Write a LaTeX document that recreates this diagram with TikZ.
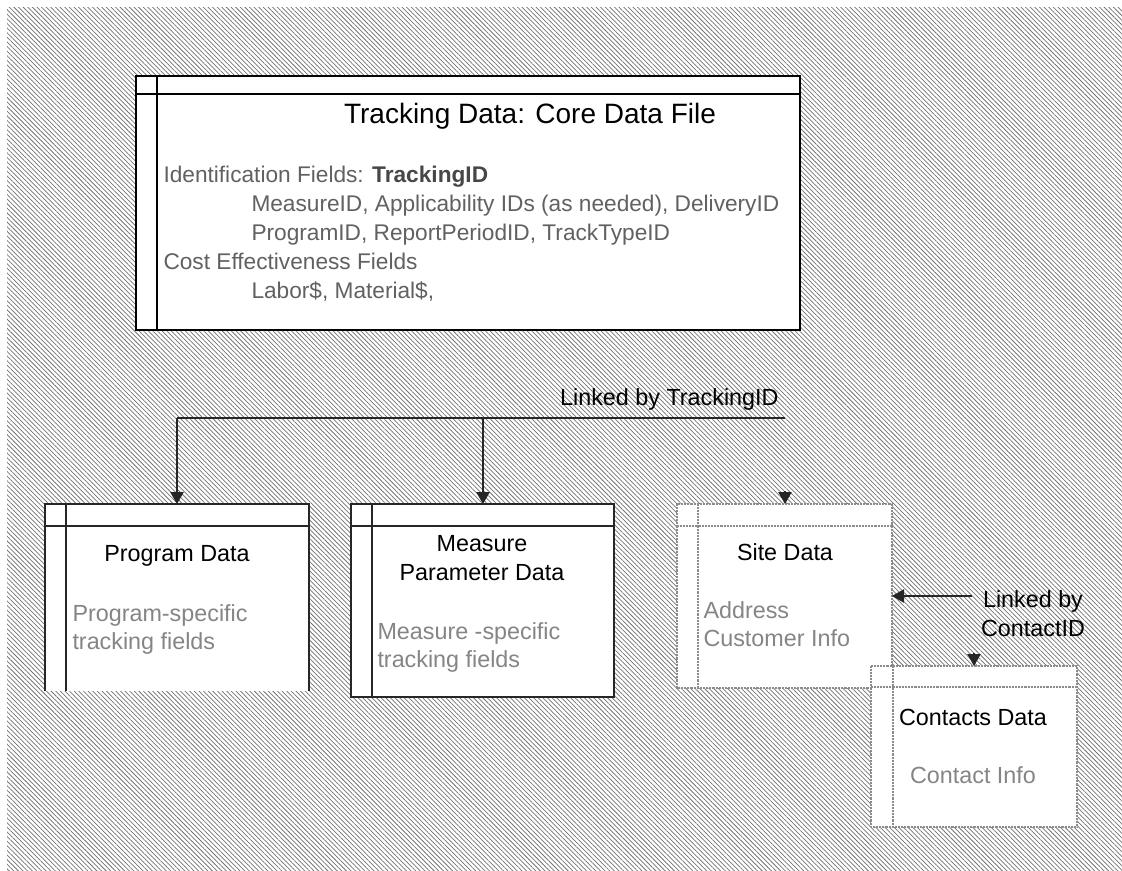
\documentclass[tikz,border=0pt]{standalone}
\usepackage{fontspec}
\setmainfont{Liberation Sans}
\usetikzlibrary{arrows.meta,patterns.meta,fit}

\tikzset{every picture/.style={line width=0.75pt}}
\tikzset{
  tblfill/.style={fill=white, inner sep=0pt, outer sep=0pt},
  tblline/.style={draw=black!85, line width=1pt},
  tbldot/.style={draw=black!45, line width=0.8pt, dash pattern=on 0.6pt off 0.5pt},
  coreline/.style={draw=black, line width=2.2pt},
  hdtext/.style={font=\fontsize{17.5}{21.75}\selectfont, align=center, inner sep=0.75pt},
  fieldtext/.style={font=\fontsize{17.5}{21}\selectfont, text=black!48, align=left, inner sep=0.75pt},
  coretext/.style={font=\fontsize{17}{21}\selectfont, text=black!62, inner sep=0.75pt, anchor=base west},
  linkarrow/.style={draw=black!85, line width=0.9pt, -{Triangle[length=9pt,width=10pt]}}
}

\begin{document}
\begin{tikzpicture}[x=0.75pt,y=0.75pt,yscale=-1,xscale=1]
\useasboundingbox (0,0) rectangle (1122,871);
\fill[white] (0,0) rectangle (1122,871);

%Hatched background
\fill[pattern={Lines[angle=-45,distance=2.45pt,line width=0.55pt]}, pattern color=black!55] (7,7) rectangle (1122,871);

%Shape: Core table
\node[tblfill, fit={(136,76) (800,330)}] (core) {};
\draw[coreline] (core.north west) rectangle (core.south east);
\draw[coreline] (136,94) -- (800,94);
\draw[coreline] (157,76) -- (157,330);

% Text Node
\node[font=\fontsize{21}{25}\selectfont, inner sep=0.75pt, anchor=base] (coreTitle) at (530,123) {Tracking Data: Core Data File};
\node[coretext] (idLine) at (162,182) {Identification Fields: {\color{black!72}\bfseries TrackingID}};
\node[coretext] (measLine) at (250,211) {MeasureID, Applicability IDs (as needed), DeliveryID};
\node[coretext] (progLine) at (250,240) {ProgramID, ReportPeriodID, TrackTypeID};
\node[coretext] (costLine) at (162,269) {Cost Effectiveness Fields};
\node[coretext] (laborLine) at (250,298) {Labor\$, Material\$,};

%Shape: Program table
\node[tblfill, fit={(45,504) (309,691)}] (prog) {};
\draw[tblline] (prog.south west) -- (prog.north west) -- (prog.north east) -- (prog.south east);
\draw[tblline] (45,526) -- (309,526);
\draw[tblline] (66,504) -- (66,691);
\node[hdtext, anchor=base] (progTitle) at (177,561) {Program Data};
\node[fieldtext, anchor=north west] (progFields) at (71,603) {Program-specific\\tracking fields};

%Shape: Measure table
\node[tblfill, fit={(351,504) (614,697)}] (meas) {};
\draw[tblline] (meas.north west) rectangle (meas.south east);
\draw[tblline] (351,526) -- (614,526);
\draw[tblline] (372,504) -- (372,697);
\node[hdtext, anchor=north] (measTitle) at (482,534) {Measure\\Parameter Data};
\node[fieldtext, anchor=north west] (measFields) at (376,621) {Measure -specific\\tracking fields};

%Shape: Site table
\node[tblfill, fit={(677,504) (892,688)}] (site) {};
\draw[tbldot] (site.north west) rectangle (site.south east);
\draw[tbldot] (677,526) -- (892,526);
\draw[tbldot] (698,504) -- (698,688);
\node[hdtext, anchor=base] (siteTitle) at (785,560) {Site Data};
\node[fieldtext, anchor=north west] (siteFields) at (702,600) {Address\\Customer Info};

%Shape: Contacts table
\node[tblfill, fit={(871,666) (1077,827)}] (cont) {};
\draw[tbldot] (cont.north west) rectangle (cont.south east);
\draw[tbldot] (871,687) -- (1077,687);
\draw[tbldot] (893,666) -- (893,827);
\node[hdtext, anchor=base] (contTitle) at (973,725) {Contacts Data};
\node[fieldtext, anchor=base] (contFields) at (973,783) {Contact Info};

%Straight Lines: link by TrackingID
\coordinate (trkEnd) at (785,418);
\coordinate (trkProg) at (177,418);
\coordinate (trkMeas) at (483,418);
\draw[draw=black!85, line width=0.9pt] (trkEnd) -- (trkProg);
\draw[linkarrow] (trkProg) -- (trkProg |- prog.north);
\draw[linkarrow] (trkMeas) -- (trkMeas |- meas.north);
\node[hdtext, anchor=base east] (trkLabel) at (780,405) {Linked by TrackingID};

%Arrow heads above site and contacts
\coordinate (siteStub) at (785,491);
\draw[linkarrow] (siteStub) -- (siteStub |- site.north);
\coordinate (contStub) at (974,653);
\draw[linkarrow] (contStub) -- (contStub |- cont.north);

%Straight Lines: link by ContactID
\coordinate (cidStart) at (972,596);
\draw[linkarrow] (cidStart) -- (cidStart -| site.east);
\node[hdtext, anchor=north] (cidLabel) at (1033,589) {Linked by\\ContactID};

\end{tikzpicture}
\end{document}
